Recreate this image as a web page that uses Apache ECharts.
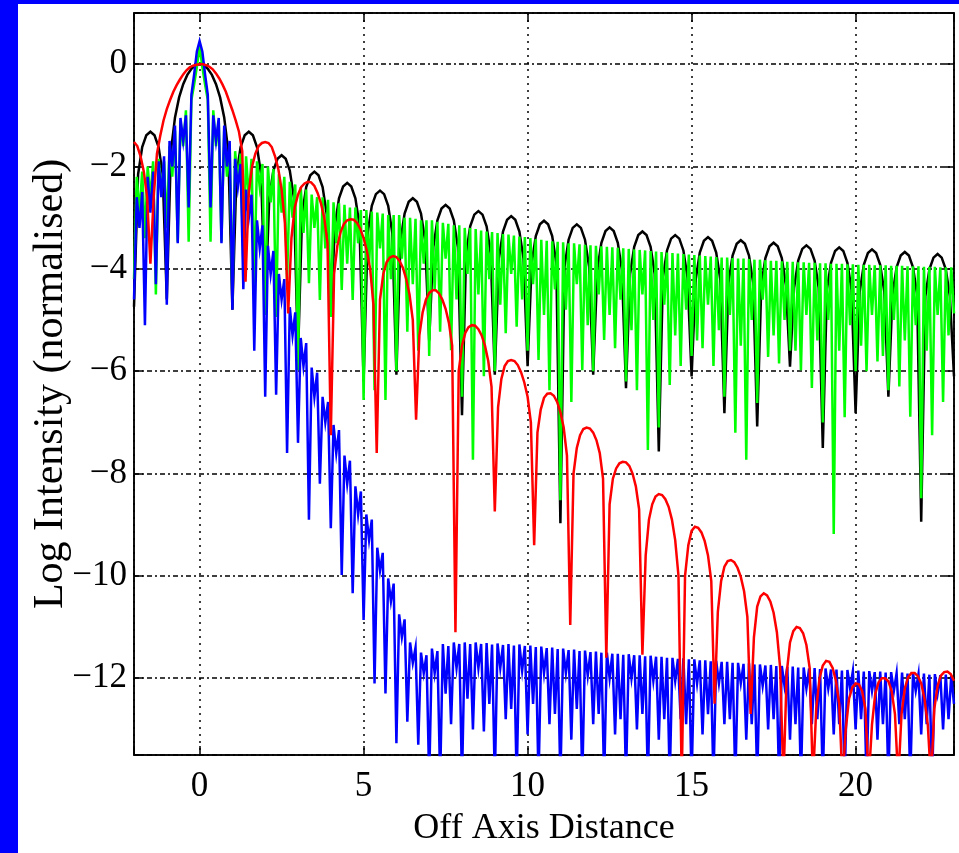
<!DOCTYPE html>
<html><head><meta charset="utf-8">
<script src="https://cdn.jsdelivr.net/npm/echarts@6/dist/echarts.min.js"></script>
<style>html,body{margin:0;padding:0;background:#fff;overflow:hidden}#c{width:959px;height:853px}</style>
</head><body><div id="c"></div>
<script>
// ---- axes ----
const X_MIN = -2, X_MAX = 23;
const Y_MIN = -13.5, Y_MAX = 1;
const xTickLabels = [0, 5, 10, 15, 20];
const yTickLabels = [0, -2, -4, -6, -8, -10, -12];
const xTitle = 'Off Axis Distance';
const yTitle = 'Log Intensity (normalised)';

// ---- black curve: samples every 0.125 from x=-2 ----
const blackStart = -2, blackStep = 0.125;
const blackY = [
-4.74,-2.15,-1.62,-1.39,-1.32,-1.39,-1.62,-2.15,
-4.6,-1.71,-1.04,-0.65,-0.39,-0.21,-0.09,-0.02,
0,-0.02,-0.09,-0.21,-0.39,-0.65,-1.04,-1.71,
-4.8,-2.15,-1.62,-1.39,-1.32,-1.39,-1.62,-2.15,
-4.74,-2.61,-2.08,-1.85,-1.78,-1.85,-2.08,-2.61,
-5.72,-2.93,-2.4,-2.17,-2.1,-2.17,-2.4,-2.93,
-4.93,-3.15,-2.62,-2.39,-2.32,-2.39,-2.62,-3.15,
-6.2,-3.3,-2.77,-2.54,-2.47,-2.54,-2.77,-3.3,
-6.07,-3.45,-2.92,-2.69,-2.62,-2.69,-2.92,-3.45,
-5.4,-3.58,-3.05,-2.82,-2.75,-2.82,-3.05,-3.58,
-6.86,-3.7,-3.17,-2.94,-2.87,-2.94,-3.17,-3.7,
-6.07,-3.8,-3.27,-3.04,-2.97,-3.04,-3.27,-3.8,
-5.9,-3.89,-3.36,-3.13,-3.06,-3.13,-3.36,-3.89,
-8.97,-3.96,-3.43,-3.2,-3.13,-3.2,-3.43,-3.96,
-6.07,-4.02,-3.49,-3.26,-3.19,-3.26,-3.49,-4.02,
-6.33,-4.1,-3.57,-3.34,-3.27,-3.34,-3.57,-4.1,
-7.57,-4.17,-3.64,-3.41,-3.34,-3.41,-3.64,-4.17,
-6.1,-4.21,-3.68,-3.45,-3.38,-3.45,-3.68,-4.21,
-6.82,-4.27,-3.74,-3.51,-3.44,-3.51,-3.74,-4.27,
-7.08,-4.32,-3.79,-3.56,-3.49,-3.56,-3.79,-4.32,
-5.91,-4.37,-3.84,-3.61,-3.54,-3.61,-3.84,-4.37,
-7.5,-4.41,-3.88,-3.65,-3.58,-3.65,-3.88,-4.41,
-6.82,-4.45,-3.92,-3.69,-3.62,-3.69,-3.92,-4.45,
-6.5,-4.5,-3.97,-3.74,-3.67,-3.74,-3.97,-4.5,
-8.94,-4.54,-4.01,-3.78,-3.71,-3.78,-4.01,-4.54,
-6.1
];

// ---- green curve: samples every 1/12 from x=-2 ----
const greenStart = -2, greenStep = 1/12;
const greenY = [
-4.2,-2.2,-2.9,-2.1, -3.4,-2.0,-2.6,-1.9, -4.5,-1.85,-2.5,-1.9,
-3.2,-1.6,-2.2,-1.3, -3.47,-1.1,-1.6,-0.9, -3.47,-0.7,-0.4,-0.05,
0.35,-0.05,-0.4,-0.7, -3.47,-0.9,-1.6,-1.1, -3.47,-1.3,-2.2,-1.6,
-4.6,-1.7,-2.3,-1.75, -3.9,-1.8,-2.6,-1.85, -4.3,-1.9,-2.4,-1.95,
-4.9,-2.0,-2.7,-2.05, -4.94,-2.15,-2.9,-2.2, -4.2,-2.3,-3.0,-2.35,
-5.98,-2.4,-3.3,-2.45, -4.28,-2.55,-3.2,-2.6, -4.61,-2.6,-3.6,-2.65,
-4.94,-2.7,-3.5,-2.72, -4.41,-2.75,-3.9,-2.8, -4.61,-2.8,-3.5,-2.85,
-6.56,-2.85,-3.9,-2.88, -6.37,-2.9,-3.6,-2.92, -6.56,-2.95,-4.2,-2.95,
-6.0,-2.95,-3.8,-3.0, -5.23,-3.0,-4.3,-3.02, -5.6,-3.05,-3.9,-3.05,
-5.7,-3.05,-4.4,-3.08, -5.23,-3.1,-3.8,-3.12, -5.59,-3.15,-4.6,-3.15,
-6.5,-3.2,-4.1,-3.2, -7.73,-3.22,-4.5,-3.25, -6.1,-3.27,-4.2,-3.28,
-6.0,-3.3,-4.7,-3.32, -5.26,-3.33,-4.1,-3.35, -5.13,-3.37,-4.6,-3.38,
-5.6,-3.4,-4.3,-3.42, -5.78,-3.43,-4.9,-3.45, -6.37,-3.46,-4.4,-3.47,
-8.52,-3.48,-4.8,-3.5, -6.6,-3.5,-4.3,-3.52, -5.98,-3.53,-5.1,-3.54,
-6.0,-3.55,-4.5,-3.56, -5.39,-3.57,-4.9,-3.58, -5.55,-3.59,-4.6,-3.6,
-6.2,-3.61,-5.2,-3.62, -6.37,-3.63,-4.5,-3.64, -7.54,-3.65,-5.0,-3.66,
-7.1,-3.67,-4.7,-3.68, -6.27,-3.69,-5.3,-3.7, -5.9,-3.71,-4.8,-3.72,
-5.7,-3.73,-5.4,-3.74, -5.55,-3.75,-4.7,-3.76, -5.9,-3.77,-5.2,-3.78,
-6.5,-3.78,-4.9,-3.79, -7.2,-3.8,-5.5,-3.8, -7.73,-3.81,-5.0,-3.82,
-6.62,-3.82,-4.6,-3.83, -5.72,-3.84,-5.3,-3.84, -5.85,-3.85,-5.0,-3.86,
-5.6,-3.86,-5.6,-3.87, -5.98,-3.87,-4.9,-3.88, -6.33,-3.88,-5.4,-3.89,
-7.0,-3.89,-5.0,-3.9, -9.18,-3.9,-5.6,-3.9, -6.9,-3.91,-5.1,-3.91,
-6.0,-3.92,-5.5,-3.92, -6.0,-3.92,-4.9,-3.93, -5.81,-3.93,-5.7,-3.93,
-6.37,-3.94,-5.0,-3.94, -6.3,-3.94,-5.4,-3.95, -6.89,-3.95,-5.1,-3.95,
-8.48,-3.96,-5.6,-3.96, -7.25,-3.96,-4.9,-3.97, -6.6,-3.97,-5.3,-3.97,
-4.87
];

// ---- blue curve: samples every 1/12 from x=-2 ----
const blueStart = -2, blueStep = 1/12;
const blueY = [
-4.6,-2.6,-3.2,-2.5, -5.1,-2.2,-2.9,-2.1, -4.3,-1.9,-2.6,-1.8,
-4.7,-1.5,-2.0,-1.2, -3.5,-1.05,-1.5,-1.0, -2.8,-0.6,-0.2,0.25,
0.45,0.25,-0.2,-0.6, -2.8,-1.0,-1.5,-1.05, -3.5,-1.2,-2.0,-1.5,
-4.8,-1.85,-2.4,-1.95, -4.4,-2.45,-3.0,-2.55, -5.6,-3.05,-3.6,-3.15,
-6.5,-3.55,-4.1,-3.65, -6.46,-4.1,-4.6,-4.2, -7.6,-4.75,-5.3,-4.85,
-7.4,-5.35,-5.9,-5.45, -8.9,-5.93,-6.5,-6.03, -8.2,-6.5,-7.0,-6.6,
-9.07,-7.05,-7.6,-7.15, -9.98,-7.65,-8.2,-7.75, -10.34,-8.25,-8.8,-8.35,
-10.86,-8.8,-9.3,-8.9, -12.1,-9.45,-9.9,-9.55, -12.3,-10.05,-10.5,-10.15,
-13.27,-10.75,-11.2,-10.85, -12.85,-11.3,-11.7,-11.4, -13.3,-11.5,-11.9,-11.55,
-14,-11.42,-11.9,-11.47, -14,-11.33,-12.3,-11.37, -12.9,-11.3,-11.8,-11.33,
-14,-11.3,-12.4,-11.33, -13.0,-11.3,-11.8,-11.33, -13.04,-11.31,-12.5,-11.34,
-14,-11.32,-11.8,-11.35, -12.8,-11.33,-12.6,-11.36, -14,-11.34,-11.85,-11.37,
-13.1,-11.36,-12.5,-11.39, -14,-11.38,-11.9,-11.41, -12.9,-11.4,-12.7,-11.43,
-14,-11.42,-11.9,-11.45, -13.2,-11.44,-12.6,-11.47, -14,-11.46,-11.95,-11.49,
-12.9,-11.48,-12.7,-11.5, -14,-11.5,-12.0,-11.52, -13.1,-11.52,-12.8,-11.54,
-14,-11.53,-12.0,-11.55, -13.0,-11.55,-12.7,-11.57, -14,-11.56,-12.05,-11.58,
-13.2,-11.58,-12.8,-11.6, -14,-11.6,-12.05,-11.62, -12.8,-11.61,-12.9,-11.63,
-14,-11.63,-12.1,-11.65, -13.1,-11.65,-12.7,-11.67, -14,-11.66,-12.1,-11.68,
-12.9,-11.68,-12.8,-11.7, -14,-11.7,-12.1,-11.72, -13.2,-11.71,-12.9,-11.73,
-14,-11.73,-12.15,-11.75, -13.0,-11.74,-12.8,-11.76, -14,-11.76,-12.15,-11.78,
-13.2,-11.77,-12.9,-11.79, -14,-11.79,-12.2,-11.81, -12.9,-11.8,-12.8,-11.82,
-14,-11.81,-12.2,-11.83, -13.1,-11.83,-12.9,-11.85, -14,-11.84,-12.2,-11.86,
-13.0,-11.85,-12.8,-11.87, -14,-11.86,-12.25,-11.88, -13.2,-11.87,-12.9,-11.89,
-14,-11.88,-12.25,-11.9, -12.9,-11.89,-12.8,-11.91, -14,-11.9,-12.25,-11.92,
-13.1,-11.91,-12.9,-11.93, -14,-11.92,-12.3,-11.94, -13.0,-11.93,-12.8,-11.95,
-12.5
];

// ---- red curve: samples every 0.1 from x=-2 ----
const redStart = -2, redStep = 0.1;
const redY = [
-1.52,-1.6,-1.8,-2.1,-2.6,-3.9,-2.6,-1.75,-1.4,-1.1,
-0.88,-0.7,-0.54,-0.41,-0.3,-0.2,-0.12,-0.06,-0.03,-0.01,
0,0,-0.02,-0.05,-0.1,-0.18,-0.28,-0.4,-0.54,-0.72,
-0.9,-1.1,-1.32,-1.7,-4.25,-2.5,-2.0,-1.75,-1.6,-1.54,
-1.52,-1.54,-1.62,-1.8,-2.05,-2.45,-3.1,-4.87,-3.4,-2.8,
-2.55,-2.4,-2.33,-2.3,-2.31,-2.38,-2.52,-2.72,-3.0,-3.5,
-7.25,-4.1,-3.55,-3.28,-3.12,-3.05,-3.03,-3.04,-3.1,-3.22,
-3.4,-3.65,-4.0,-4.7,-7.6,-4.6,-4.1,-3.87,-3.78,-3.75,
-3.77,-3.85,-3.98,-4.2,-4.5,-5.0,-6.95,-5.3,-4.85,-4.6,
-4.47,-4.42,-4.42,-4.48,-4.6,-4.78,-5.05,-5.5,-11.1,-6.0,
-5.5,-5.25,-5.14,-5.1,-5.11,-5.18,-5.3,-5.5,-5.8,-6.3,
-8.74,-6.7,-6.15,-5.9,-5.8,-5.78,-5.8,-5.88,-6.02,-6.22,
-6.5,-7.0,-9.4,-7.2,-6.75,-6.52,-6.44,-6.43,-6.48,-6.6,
-6.8,-7.1,-7.65,-10.96,-8.0,-7.5,-7.25,-7.13,-7.1,-7.12,
-7.2,-7.35,-7.6,-8.1,-11.6,-8.6,-8.1,-7.9,-7.8,-7.77,
-7.78,-7.85,-8.0,-8.25,-8.7,-11.54,-9.6,-8.9,-8.6,-8.45,
-8.4,-8.42,-8.5,-8.65,-8.9,-9.3,-10.0,-14,-10.0,-9.4,
-9.12,-9.04,-9.06,-9.15,-9.32,-9.6,-10.1,-12.5,-10.7,-10.1,
-9.82,-9.71,-9.69,-9.73,-9.84,-10.02,-10.3,-10.8,-12.7,-11.2,
-10.6,-10.4,-10.34,-10.38,-10.5,-10.72,-11.1,-11.8,-14,-11.9,
-11.3,-11.08,-11.0,-11.02,-11.12,-11.35,-11.8,-14,-12.6,-12.0,
-11.75,-11.66,-11.68,-11.8,-12.05,-12.5,-14,-13.0,-12.4,-12.18,
-12.1,-12.12,-12.25,-12.6,-14,-12.9,-12.3,-12.08,-12.0,-12.0,
-12.06,-12.25,-12.7,-14,-12.7,-12.2,-11.98,-11.9,-11.9,-11.96,
-12.1,-12.4,-12.9,-14,-12.6,-12.15,-11.95,-11.88,-11.87,-11.92,
-12.05
];

function pairs(start, step, ys) {
  return ys.map((y, i) => [Math.round((start + i * step) * 10000) / 10000, y]);
}

const FONT = '"Liberation Serif", "Times New Roman", Times, serif';
const fmt = v => (v < 0 ? '\u2212' + Math.abs(v) : String(v));

const chart = echarts.init(document.getElementById('c'), null, { renderer: 'canvas' });

function lineSeries(name, color, start, step, ys, z, w) {
  return {
    name, type: 'line', data: pairs(start, step, ys),
    showSymbol: false, symbol: 'none', clip: true, z,
    sampling: null, animation: false,
    lineStyle: { color, width: w, join: 'miter' }, itemStyle: { color }
  };
}

const axisLine = { show: true, onZero: false, lineStyle: { color: '#000', width: 1.5 } };
const tick = { show: true, inside: true, length: 9, lineStyle: { color: '#000', width: 1.5 } };

chart.setOption({
  backgroundColor: '#ffffff',
  animation: false,
  grid: { left: 134, top: 13, right: 5, bottom: 98, show: true, backgroundColor: '#fff', borderColor: '#000', borderWidth: 1.5 },
  xAxis: [{
    type: 'value', min: X_MIN, max: X_MAX, splitNumber: 5, position: 'bottom',
    axisLine, axisTick: tick,
    axisLabel: { color: '#000', fontSize: 35, fontFamily: FONT, margin: 14,
      formatter: v => xTickLabels.includes(v) ? fmt(v) : '' },
    splitLine: { show: true, lineStyle: { color: '#000', width: 1.5, type: [2, 5] } },
    name: xTitle, nameLocation: 'middle', nameGap: 56, nameMoveOverlap: false,
    nameTextStyle: { color: '#000', fontSize: 36, fontFamily: FONT }
  }, {
    type: 'value', min: X_MIN, max: X_MAX, splitNumber: 5, position: 'top',
    axisLine, axisTick: tick, axisLabel: { show: false }, splitLine: { show: false }
  }],
  yAxis: [{
    type: 'value', min: Y_MIN, max: Y_MAX, splitNumber: 7, position: 'left',
    axisLine, axisTick: tick,
    axisLabel: { color: '#000', fontSize: 35, fontFamily: FONT, margin: 7,
      formatter: v => yTickLabels.includes(v) ? fmt(v) : '' },
    splitLine: { show: true, lineStyle: { color: '#000', width: 1.5, type: [5, 3, 2, 3] } },
    name: yTitle, nameLocation: 'middle', nameGap: 62, nameRotate: 90, nameMoveOverlap: false,
    nameTextStyle: { color: '#000', fontSize: 42, fontFamily: FONT }
  }, {
    type: 'value', min: Y_MIN, max: Y_MAX, splitNumber: 7, position: 'right',
    axisLine, axisTick: tick, axisLabel: { show: false }, splitLine: { show: false }
  }],
  graphic: [
    { type: 'rect', left: 0, top: 0, shape: { width: 18, height: 853 }, style: { fill: '#0000ff' }, silent: true },
    { type: 'rect', left: 0, top: 0, shape: { width: 959, height: 4 }, style: { fill: '#0000ff' }, silent: true }
  ],
  series: [
    lineSeries('black', '#000000', blackStart, blackStep, blackY, 2, 2.5),
    lineSeries('green', '#00ff00', greenStart, greenStep, greenY, 3, 2.5),
    lineSeries('blue', '#0000ff', blueStart, blueStep, blueY, 4, 2.5),
    lineSeries('red', '#ff0000', redStart, redStep, redY, 5, 2.5)
  ]
});
</script>
</body></html>
